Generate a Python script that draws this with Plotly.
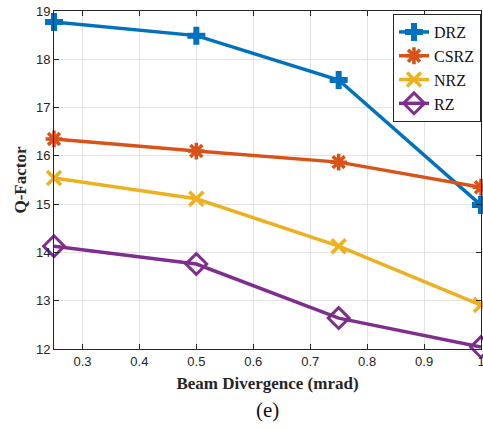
import plotly.graph_objects as go

beam_div = [0.25, 0.5, 0.75, 1.0]
drz = [18.77, 18.49, 17.57, 14.98]
csrz = [16.35, 16.10, 15.87, 15.35]
nrz = [15.54, 15.11, 14.13, 12.91]
rz = [14.13, 13.76, 12.64, 12.04]

series = [
    ("DRZ", drz, "#0072BD", dict(symbol="cross", size=15)),
    ("CSRZ", csrz, "#D95319", dict(symbol="asterisk-open", size=14, line=dict(width=3.5, color="#D95319"))),
    ("NRZ", nrz, "#EDB120", dict(symbol="x-thin-open", size=14, line=dict(width=3.5, color="#EDB120"))),
    ("RZ", rz, "#7E2F8E", dict(symbol="diamond-open", size=16, line=dict(width=3, color="#7E2F8E"))),
]

fig = go.Figure()
for name, vals, color, marker in series:
    m = dict(color=color)
    m.update(marker)
    fig.add_trace(go.Scatter(x=beam_div, y=vals, name=name, mode="lines+markers",
                             line=dict(color=color, width=3.5), marker=m, cliponaxis=False))

axis_common = dict(showline=True, linecolor="#262626", linewidth=1, mirror="ticks",
                   ticks="inside", ticklen=5, tickcolor="#262626",
                   showgrid=True, gridcolor="#E3E3E3", gridwidth=1, zeroline=False,
                   automargin=False, ticklabeloverflow="allow",
                   tickfont=dict(family="Liberation Sans, Arial", size=13, color="#262626"))

fig.update_xaxes(range=[0.25, 1.0], dtick=0.1, tick0=0.3, tickformat=".1~f",
                 title=dict(text="<b>Beam Divergence (mrad)</b>", standoff=9,
                            font=dict(family="Liberation Serif, Times New Roman", size=17, color="#262626")),
                 **axis_common)
fig.update_yaxes(range=[12, 19], dtick=1,
                 title=dict(text="<b>Q-Factor</b>", standoff=4,
                            font=dict(family="Liberation Serif, Times New Roman", size=17, color="#262626")),
                 **axis_common)

fig.add_annotation(text="(e)", xref="paper", yref="paper", x=0.5, y=0, yshift=-61,
                   xanchor="center", yanchor="middle", showarrow=False,
                   font=dict(family="Liberation Serif, Times New Roman", size=21, color="#111111"))

fig.update_layout(
    width=483, height=428,
    margin=dict(l=54, r=2, t=11, b=79),
    plot_bgcolor="white", paper_bgcolor="white",
    legend=dict(x=1.0, y=0.991, xanchor="right", yanchor="top",
                bgcolor="white", bordercolor="#262626", borderwidth=1,
                font=dict(family="Liberation Serif, Times New Roman", size=16, color="#111111"),
                tracegroupgap=0, itemwidth=30),
)

fig.write_html("out.html", config={"displayModeBar": False},
               post_script="document.body.style.margin='0';")
